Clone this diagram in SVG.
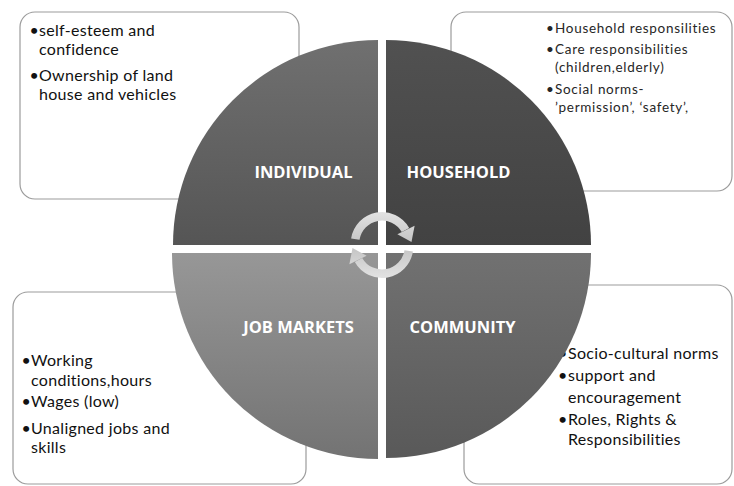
<svg xmlns="http://www.w3.org/2000/svg" width="734" height="486" viewBox="0 0 734 486">
  <style>
    .box { fill: #ffffff; stroke: #9c9c9c; stroke-width: 1.2; }
    .body { font-family: Lato, "Open Sans", sans-serif; font-size: 16px; letter-spacing: 0.3px; fill: #111111; }
    .small { font-family: Lato, "Open Sans", sans-serif; font-size: 13.5px; fill: #262626; letter-spacing: 0.7px; }
    .dot { letter-spacing: 0; }
    .label { font-family: "Open Sans", "Liberation Sans", sans-serif; font-size: 16.5px; font-weight: bold; fill: #ffffff; text-anchor: middle; }
    .band { fill: none; stroke: url(#arrowGrad); stroke-width: 8.5; }
    .head { fill: url(#arrowGrad); }
  </style>
  <defs>
    <linearGradient id="gTL" x1="0" y1="0" x2="0" y2="1">
      <stop offset="0" stop-color="#707070"/>
      <stop offset="1" stop-color="#555555"/>
    </linearGradient>
    <linearGradient id="gTR" x1="0" y1="0" x2="0" y2="1">
      <stop offset="0" stop-color="#515151"/>
      <stop offset="1" stop-color="#424242"/>
    </linearGradient>
    <linearGradient id="gBL" x1="0" y1="0" x2="0" y2="1">
      <stop offset="0" stop-color="#979797"/>
      <stop offset="1" stop-color="#737373"/>
    </linearGradient>
    <linearGradient id="gBR" x1="0" y1="0" x2="0" y2="1">
      <stop offset="0" stop-color="#717171"/>
      <stop offset="1" stop-color="#595959"/>
    </linearGradient>
    <linearGradient id="arrowGrad" gradientUnits="userSpaceOnUse" x1="0" y1="210" x2="0" y2="280">
      <stop offset="0" stop-color="#e4e4e4"/>
      <stop offset="0.5" stop-color="#c2c2c2"/>
      <stop offset="1" stop-color="#a9a9a9"/>
    </linearGradient>
  </defs>

  <!-- corner text boxes (drawn first, the quadrants sit on top of them) -->
  <g id="box-individual">
    <rect class="box" x="20" y="12" width="279" height="187" rx="15"/>
    <text class="body dot" x="29.5" y="35.5">•</text>
    <text class="body"><tspan x="39" y="35.5">self-esteem and</tspan><tspan x="39" y="55">confidence</tspan></text>
    <text class="body dot" x="29.5" y="80.5">•</text>
    <text class="body"><tspan x="39" y="80.5">Ownership of land</tspan><tspan x="39" y="100">house and vehicles</tspan></text>
  </g>

  <g id="box-household">
    <rect class="box" x="451" y="12" width="281" height="179" rx="15"/>
    <text class="small dot" x="546" y="32.5">•</text>
    <text class="small" x="555" y="32.5">Household responsilities</text>
    <text class="small dot" x="546" y="54">•</text>
    <text class="small"><tspan x="555" y="54">Care responsibilities</tspan><tspan x="555" y="72">(children,elderly)</tspan></text>
    <text class="small dot" x="546" y="94">•</text>
    <text class="small"><tspan x="555" y="94">Social norms-</tspan><tspan x="555" y="111.5">’permission’, ‘safety’,</tspan></text>
  </g>

  <g id="box-job-markets">
    <rect class="box" x="13" y="292" width="293" height="192" rx="15"/>
    <text class="body dot" x="21.5" y="366">•</text>
    <text class="body"><tspan x="31" y="366">Working</tspan><tspan x="31" y="385.5">conditions,hours</tspan></text>
    <text class="body dot" x="21.5" y="407">•</text>
    <text class="body" x="31" y="407">Wages (low)</text>
    <text class="body dot" x="21.5" y="433.5">•</text>
    <text class="body"><tspan x="31" y="433.5">Unaligned jobs and</tspan><tspan x="31" y="453">skills</tspan></text>
  </g>

  <g id="box-community">
    <rect class="box" x="464" y="285" width="268" height="199" rx="15"/>
    <text class="body dot" x="558" y="359">•</text>
    <text class="body" x="568" y="359">Socio-cultural norms</text>
    <text class="body dot" x="558" y="380.5">•</text>
    <text class="body"><tspan x="568" y="380.5">support and</tspan><tspan x="568" y="402.5">encouragement</tspan></text>
    <text class="body dot" x="558" y="425">•</text>
    <text class="body"><tspan x="568" y="425">Roles, Rights &amp;</tspan><tspan x="568" y="445">Responsibilities</tspan></text>
  </g>

  <!-- four quarter-circle quadrants -->
  <g id="individual">
    <path d="M378,245 L173,245 A205,205 0 0 1 378,40 Z" fill="url(#gTL)"/>
    <text class="label" x="303.5" y="178">INDIVIDUAL</text>
  </g>
  <g id="household">
    <path d="M386,245 L386,40 A205,205 0 0 1 591,245 Z" fill="url(#gTR)"/>
    <text class="label" x="458.5" y="177.5">HOUSEHOLD</text>
  </g>
  <g id="job-markets">
    <path d="M378,253 L378,459 A206,206 0 0 1 172,253 Z" fill="url(#gBL)"/>
    <text class="label" x="298.5" y="333">JOB MARKETS</text>
  </g>
  <g id="community">
    <path d="M386,253 L591,253 A205,205 0 0 1 386,458 Z" fill="url(#gBR)"/>
    <text class="label" x="462.5" y="333">COMMUNITY</text>
  </g>

  <!-- circular arrows in the middle -->
  <g id="connectors">
    <g id="arrow-top">
      <path class="band" d="M355.3,239.2 A27,27 0 0 1 405.5,230"/>
      <polygon class="head" points="414.6,225.8 397.4,234.2 411.5,242"/>
    </g>
    <g id="arrow-bottom" transform="rotate(180 382 245)">
      <path class="band" d="M355.3,239.2 A27,27 0 0 1 405.5,230"/>
      <polygon class="head" points="414.6,225.8 397.4,234.2 411.5,242"/>
    </g>
  </g>
</svg>
